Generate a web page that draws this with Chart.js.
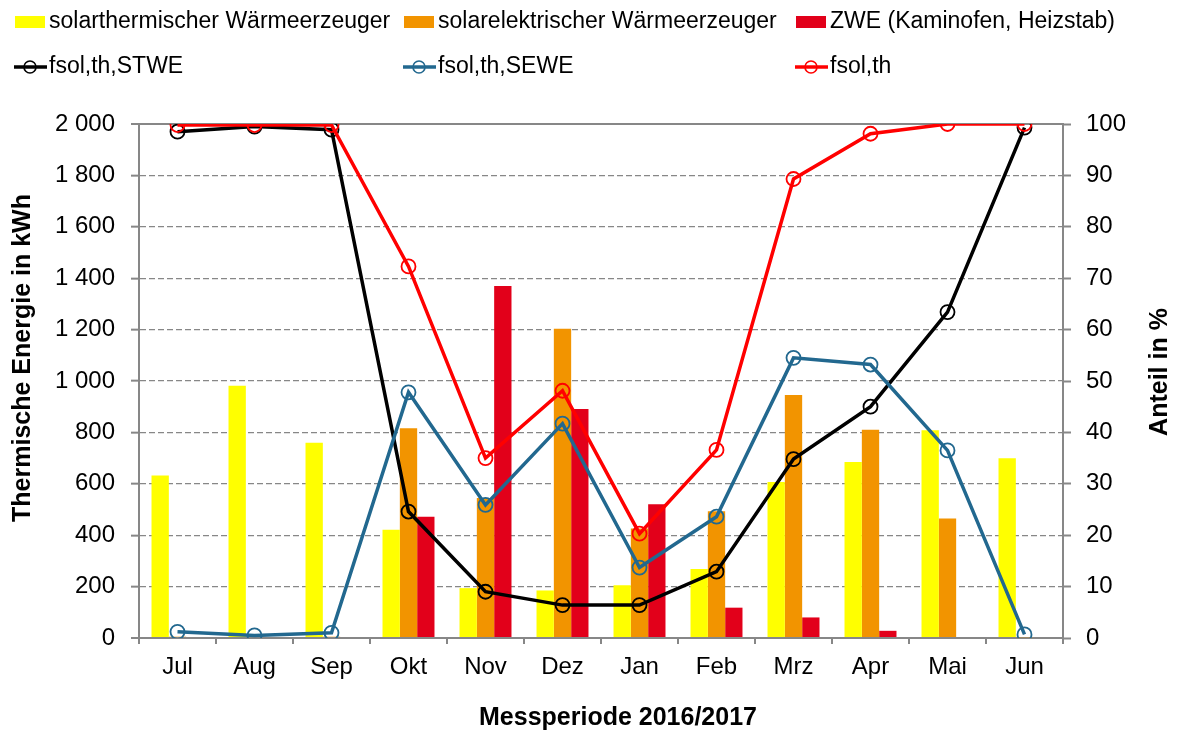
<!DOCTYPE html>
<html lang="de">
<head>
<meta charset="utf-8">
<title>Messperiode 2016/2017</title>
<script src="https://cdn.jsdelivr.net/npm/chart.js@4.4.1/dist/chart.umd.min.js"></script>
<style>
  html, body { margin: 0; padding: 0; background: #fff; }
  #wrap { width: 1179px; height: 736px; position: relative; }
</style>
</head>
<body>
<div id="wrap"><canvas id="chart"></canvas></div>
<script>
// Monate der Messperiode
const months = ['Jul', 'Aug', 'Sep', 'Okt', 'Nov', 'Dez', 'Jan', 'Feb', 'Mrz', 'Apr', 'Mai', 'Jun'];

// Thermische Energie in kWh
const solarThermal = [632, 982, 760, 421, 194, 185, 205, 268, 607, 685, 808, 699];
const solarElectric = [5, 5, 5, 816, 545, 1203, 426, 493, 946, 810, 465, 3];
const zwe = [0, 0, 0, 472, 1370, 891, 520, 118, 80, 28, 0, 0];

// Anteile in %
const fsolStwe = [98.5, 99.5, 98.9, 24.6, 9.0, 6.4, 6.4, 12.9, 34.8, 45.0, 63.4, 99.3];
const fsolSewe = [1.2, 0.5, 1.0, 47.8, 25.9, 41.7, 13.7, 23.6, 54.5, 53.2, 36.5, 0.7];
const fsolTh = [99.8, 99.8, 99.8, 72.3, 35.0, 48.1, 20.3, 36.6, 89.3, 98.1, 100, 100];

const energyTicks = { min: 0, max: 2000, step: 200 };
const shareTicks = { min: 0, max: 100, step: 10 };

const FONT = '"Liberation Sans", Arial, sans-serif';
const GRID = '#878787';

// 2000 -> "2 000"
function formatKwh(v) {
  if (v < 1000) return String(v);
  const rest = String(v % 1000).padStart(3, '0');
  return Math.floor(v / 1000) + ' ' + rest;
}

function lineSet(label, data, color, order) {
  return {
    type: 'line',
    label: label,
    data: data,
    yAxisID: 'y1',
    borderColor: color,
    backgroundColor: color,
    borderWidth: 3.5,
    tension: 0,
    pointRadius: 7,
    pointBorderWidth: 1.8,
    pointBackgroundColor: 'rgba(0,0,0,0)',
    pointBorderColor: color,
    order: order
  };
}

// Legende und Achsentitel selbst zeichnen (3 Spalten, 2 Zeilen)
const decorations = {
  id: 'decorations',
  afterDraw(chart) {
    const ctx = chart.ctx;
    const cols = [14, 403, 795];
    const rows = [22, 67];
    ctx.save();
    ctx.font = '23px ' + FONT;
    ctx.textBaseline = 'middle';
    ctx.textAlign = 'left';
    chart.data.datasets.forEach((ds, i) => {
      const x = cols[i % 3];
      const y = rows[Math.floor(i / 3)];
      if (ds.type === 'line') {
        ctx.strokeStyle = ds.borderColor;
        ctx.lineWidth = 3.5;
        ctx.beginPath();
        ctx.moveTo(x, y);
        ctx.lineTo(x + 33, y);
        ctx.stroke();
        ctx.lineWidth = 1.6;
        ctx.beginPath();
        ctx.arc(x + 16, y, 6, 0, Math.PI * 2);
        ctx.stroke();
      } else {
        ctx.fillStyle = ds.backgroundColor;
        ctx.fillRect(x + 1, y - 6, 30, 12);
      }
      ctx.fillStyle = '#000';
      ctx.fillText(ds.label, x + 35, y);
    });

    ctx.font = 'bold 25px ' + FONT;
    ctx.textAlign = 'center';
    ctx.fillText('Messperiode 2016/2017', 618, 718);

    ctx.translate(23, 358);
    ctx.rotate(-Math.PI / 2);
    ctx.fillText('Thermische Energie in kWh', 0, 0);
    ctx.restore();

    ctx.save();
    ctx.font = 'bold 25px ' + FONT;
    ctx.textAlign = 'center';
    ctx.textBaseline = 'middle';
    ctx.fillStyle = '#000';
    ctx.translate(1160, 372);
    ctx.rotate(-Math.PI / 2);
    ctx.fillText('Anteil in %', 0, 0);
    ctx.restore();
  }
};

new Chart(document.getElementById('chart'), {
  data: {
    labels: months,
    datasets: [
      { type: 'bar', label: 'solarthermischer Wärmeerzeuger', data: solarThermal, backgroundColor: '#ffff00', yAxisID: 'y', order: 10 },
      { type: 'bar', label: 'solarelektrischer Wärmeerzeuger', data: solarElectric, backgroundColor: '#f29400', yAxisID: 'y', order: 10 },
      { type: 'bar', label: 'ZWE (Kaminofen, Heizstab)', data: zwe, backgroundColor: '#e2001a', yAxisID: 'y', order: 10 },
      lineSet('fsol,th,STWE', fsolStwe, '#000000', 3),
      lineSet('fsol,th,SEWE', fsolSewe, '#22688f', 2),
      lineSet('fsol,th', fsolTh, '#ff0000', 1)
    ]
  },
  options: {
    responsive: true,
    maintainAspectRatio: false,
    animation: false,
    layout: { padding: { top: 124, left: 0, right: 0, bottom: 0 } },
    datasets: {
      bar: { categoryPercentage: 0.675, barPercentage: 1.0 }
    },
    plugins: {
      legend: { display: false },
      tooltip: { enabled: false }
    },
    scales: {
      x: {
        offset: true,
        grid: { drawOnChartArea: false, drawTicks: true, tickLength: 6, color: GRID, lineWidth: 2 },
        border: { color: GRID, width: 2 },
        ticks: { color: '#000', font: { family: FONT, size: 24 }, padding: 9, maxRotation: 0 },
        afterFit(scale) { scale.height = 98; }
      },
      y: {
        position: 'left',
        min: energyTicks.min,
        max: energyTicks.max,
        ticks: {
          stepSize: energyTicks.step,
          color: '#000',
          font: { family: FONT, size: 24 },
          padding: 16,
          callback: v => formatKwh(v)
        },
        grid: {
          color: GRID,
          lineWidth: ctx => (ctx.tick && (ctx.tick.value === 0 || ctx.tick.value === energyTicks.max)) ? 2 : 1.3,
          tickLength: 8,
          tickColor: GRID,
          tickWidth: 2
        },
        border: {
          color: GRID,
          width: 2,
          dash: ctx => (ctx.tick && (ctx.tick.value === 0 || ctx.tick.value === energyTicks.max)) ? [] : [6, 3]
        },
        afterFit(scale) { scale.width = 139; }
      },
      y1: {
        position: 'right',
        min: shareTicks.min,
        max: shareTicks.max,
        ticks: {
          stepSize: shareTicks.step,
          color: '#000',
          font: { family: FONT, size: 24 },
          padding: 15
        },
        grid: { drawOnChartArea: false, tickLength: 8, color: GRID, tickColor: GRID, tickWidth: 2 },
        border: { color: GRID, width: 2 },
        afterFit(scale) { scale.width = 116; }
      }
    }
  },
  plugins: [decorations]
});
</script>
</body>
</html>
